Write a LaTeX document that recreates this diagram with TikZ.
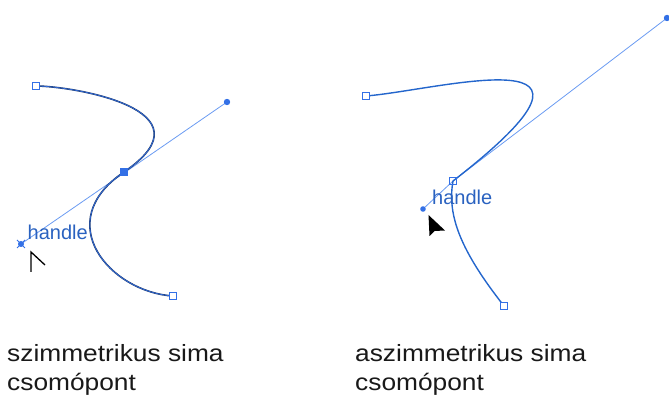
\documentclass[tikz,border=0pt]{standalone}
\usepackage{fontspec}
\usetikzlibrary{calc}
\newfontfamily\labfont{Liberation Sans}[FakeStretch=1.12]
\newfontfamily\hfont{Liberation Sans}
\definecolor{hline}{HTML}{6A9BF2}
\definecolor{anch}{HTML}{3370E6}
\definecolor{curveA}{HTML}{1E3A6E}
\definecolor{curveB}{HTML}{2466CC}
\definecolor{htext}{HTML}{2A62C0}
\tikzset{
  handleline/.style={hline, line width=0.8pt},
  anchorsq/.style={draw=anch, fill=white, line width=1.1pt},
  handledot/.style={fill=anch, draw=none},
  caption/.style={font=\labfont\fontsize{23.5}{28}\selectfont, text=black!90, anchor=base west, inner sep=0pt},
  hlabel/.style={font=\hfont\fontsize{20}{22}\selectfont, text=htext, anchor=base west, inner sep=0pt},
}
\begin{document}
\begin{tikzpicture}[x=1pt,y=-1pt]
\useasboundingbox (0,0) rectangle (669,395);
% ---------- left panel ----------
\coordinate (A1) at (36,86);
\coordinate (M) at (124,172);
\coordinate (B1) at (173,296);
\coordinate (H1) at (227,102);
\coordinate (H2) at (21,244);
\draw[handleline] (H2) -- (H1);
\draw[curveA, line width=1.6pt] (A1) .. controls (70,86) and (216.7,109) .. (M)
      .. controls (50,222) and (110,292) .. (B1);
\draw[anch, line width=0.6pt] (A1) .. controls (70,86) and (216.7,109) .. (M)
      .. controls (50,222) and (110,292) .. (B1);
\draw[anchorsq] ($(A1)+(-3.3,-3.3)$) rectangle ($(A1)+(3.3,3.3)$);
\draw[anchorsq] ($(B1)+(-3.3,-3.3)$) rectangle ($(B1)+(3.3,3.3)$);
\fill[anch] ($(M)+(-4,-4)$) rectangle ($(M)+(4,4)$);
\fill[handledot] (H1) circle (3.2);
\fill[handledot] (H2) circle (3);
\draw[anch, line width=1pt] ($(H2)+(-4,-4)$) -- ($(H2)+(4,4)$) ($(H2)+(-4,4)$) -- ($(H2)+(4,-4)$);
\node[hlabel] (hl1) at (27.5,240) {handle};
\coordinate (C1) at (31,252);
\draw[black, line width=1.3pt] (31,272) -- (C1) -- (45,265);
\node[caption] (t1a) at (7,361.7) {szimmetrikus sima};
\node[caption] (t1b) at (7,390) {csomópont};
% ---------- right panel ----------
\coordinate (A2) at (366,96);
\coordinate (N) at (453,181);
\coordinate (B2) at (504,306);
\coordinate (K1) at (667,18);
\coordinate (K2) at (423,209);
\draw[handleline] (K2) -- (N) -- (K1);
\draw[curveB, line width=1.4pt] (A2) .. controls (440,90) and (645,32) .. (N)
      .. controls (447,215) and (460,250) .. (B2);
\draw[anchorsq] ($(A2)+(-3.3,-3.3)$) rectangle ($(A2)+(3.3,3.3)$);
\draw[anchorsq] ($(B2)+(-3.3,-3.3)$) rectangle ($(B2)+(3.3,3.3)$);
\draw[anchorsq, fill=none] ($(N)+(-3.8,-3.8)$) rectangle ($(N)+(3.8,3.8)$);
\fill[handledot] (K1) circle (3.2);
\fill[handledot] (K2) circle (2.8);
\node[hlabel] (hl2) at (432,205) {handle};
\coordinate (C2) at (428.5,215);
\fill[black] (C2) -- (429.5,236) -- (434.5,231) -- (445,230.5) -- cycle;
\node[caption] (t2a) at (355,361.7) {aszimmetrikus sima};
\node[caption] (t2b) at (355,390) {csomópont};
\end{tikzpicture}
\end{document}
